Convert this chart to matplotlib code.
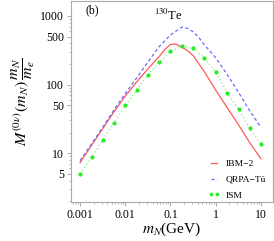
import matplotlib

matplotlib.use("Agg")
import matplotlib.pyplot as plt
from matplotlib.ticker import FixedLocator, LogLocator, NullFormatter

# values (log-log)
mn_ibm = [0.001, 0.0018, 0.0032, 0.0056, 0.01, 0.018, 0.032, 0.056, 0.075, 0.1, 0.13,
          0.18, 0.24, 0.32, 0.56, 1.0, 1.8, 3.2, 5.6, 10.0]
ibm2 = [7.3, 13.1, 23, 40, 68, 110, 171, 255, 325, 385, 390,
        349, 311, 263, 154, 83, 46, 25.9, 14.4, 8.3]

mn_qrpa = [0.001, 0.0018, 0.0032, 0.0056, 0.01, 0.018, 0.032, 0.056, 0.1, 0.13,
           0.18, 0.24, 0.32, 0.42, 0.56, 1.0, 1.8, 3.2, 5.6, 10.0]
qrpa = [7.8, 13.7, 24.2, 42.7, 74, 126, 215, 356, 530, 596,
        690, 659, 586, 488, 380, 246, 140, 77, 42, 23.8]

mn_ism = [0.001, 0.0018, 0.0032, 0.0056, 0.01, 0.018, 0.032, 0.056, 0.1,
          0.18, 0.32, 0.56, 1.0, 1.8, 3.2, 5.6, 10.0]
ism = [5.0, 8.7, 15.8, 27.5, 49.7, 83.7, 140, 210, 304,
       359, 336, 244, 154, 76, 43.5, 23.6, 13.5]

xticks = [0.001, 0.01, 0.1, 1, 10]
xtick_labels = ["0.001", "0.01", "0.1", "1", "10"]
yticks = [5, 10, 50, 100, 500, 1000]
ytick_labels = ["5", "10", "50", "100", "500", "1000"]

plt.rcParams["font.family"] = ["Liberation Serif", "DejaVu Serif"]
plt.rcParams["mathtext.fontset"] = "stix"

fig = plt.figure(figsize=(2.74, 2.41), dpi=100)
ax = fig.add_axes([71 / 274, 1 - 202 / 241, 202 / 274, 201 / 241])

ax.plot(mn_ibm, ibm2, color="#ff5a5a", lw=0.9, label="IBM\u22122")
ax.plot(mn_qrpa, qrpa, color="#6a6aff", lw=0.9, ls=(0, (2.6, 2.0)), label="QRPA\u2212Tü")
ax.plot(mn_ism, ism, color="#7cf07c", lw=0.9, ls=(0, (1, 2)), marker="o", ms=2.0,
        mfc="#22ee22", mec="#22ee22", label="ISM")

ax.set_xscale("log")
ax.set_yscale("log")
ax.set_xlim(6.3e-4, 18.5)
ax.set_ylim(1.95, 1650)

ax.xaxis.set_major_locator(FixedLocator(xticks))
ax.set_xticklabels(xtick_labels)
ax.yaxis.set_major_locator(FixedLocator(yticks))
ax.set_yticklabels(ytick_labels)
for axis in (ax.xaxis, ax.yaxis):
    axis.set_minor_locator(LogLocator(base=10, subs=range(2, 10), numticks=20))
    axis.set_minor_formatter(NullFormatter())

for side in ("left", "bottom", "top", "right"):
    ax.spines[side].set_color("#aaaaaa")
    ax.spines[side].set_linewidth(0.8)
ax.tick_params(which="major", length=3, width=0.6, color="#999999", labelsize=8.5, pad=2)
ax.tick_params(which="minor", length=1.5, width=0.5, color="#999999")

ax.set_xlabel(r"$m_N$(GeV)", fontsize=11, labelpad=0)
ax.set_ylabel(r"$M^{(0\nu)}(m_N)\,\dfrac{m_N}{m_e}$", fontsize=11.5, labelpad=2)

ax.text(0.07, 0.955, "(b)", transform=ax.transAxes, fontsize=8.5, va="center")
ax.text(0.48, 0.93, r"$^{130}$Te", transform=ax.transAxes, fontsize=9, va="center", ha="center")

ax.legend(loc="upper left", bbox_to_anchor=(0.66, 0.23), borderaxespad=0, frameon=False,
          fontsize=6.8, handlelength=1.2, handletextpad=0.7, labelspacing=0.75, numpoints=2,
          markerscale=0.8)

fig.savefig("out.png", dpi=100)
